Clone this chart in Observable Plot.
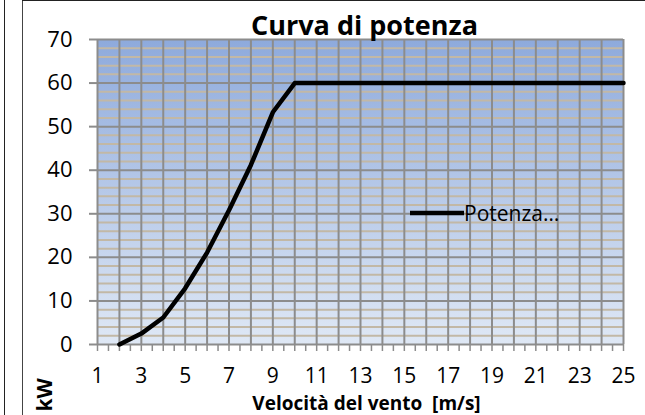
<!DOCTYPE html>
<html>
<head>
<meta charset="utf-8">
<script src="https://cdn.jsdelivr.net/npm/d3@7"></script>
<script src="https://cdn.jsdelivr.net/npm/@observablehq/plot@0.6"></script>
<style>
  html, body { margin: 0; padding: 0; background: #fff; }
  #wrap { position: relative; width: 645px; height: 415px; overflow: hidden; font-family: "Open Sans", sans-serif; }
  .edge { position: absolute; background: #222; }
  #legend { position: absolute; left: 410px; top: 199px; display: flex; align-items: center; font-size: 21px; color: #000; white-space: nowrap; }
</style>
</head>
<body>
<div id="wrap">
  <div class="edge" style="left:4px;top:0;width:1px;height:415px;"></div>
  <div class="edge" style="left:22px;top:0;width:1px;height:415px;background:#444;"></div>
  <div class="edge" style="left:22px;top:0;width:623px;height:1px;"></div>
  <div id="chart"></div>
  <div id="legend"><svg width="54" height="8"><line x1="0" y1="4" x2="54" y2="4" stroke="#000" stroke-width="4.5"/></svg><span>Potenza…</span></div>
</div>
<script>
// Data
const windSpeed = [2, 3, 4, 5, 6, 7, 8, 9, 10, 11, 12, 13, 14, 15, 16, 17, 18, 19, 20, 21, 22, 23, 24, 25];
const power     = [0, 2.5, 6.2, 12.9, 21.1, 30.8, 41.2, 53.3, 60, 60, 60, 60, 60, 60, 60, 60, 60, 60, 60, 60, 60, 60, 60, 60];
const xTickLabels = [1, 3, 5, 7, 9, 11, 13, 15, 17, 19, 21, 23, 25];
const xGrid = d3.range(1, 26, 1);
const xMinorTicks = d3.range(1, 25.01, 0.5);
const yTicks = [0, 10, 20, 30, 40, 50, 60, 70];
const yMinor = d3.range(0, 71, 2).filter(d => d % 10 !== 0);
const title = "Curva di potenza";
const xTitle = "Velocità del vento  [m/s]";
const yTitle = "kW";

const data = windSpeed.map((x, i) => ({x, y: power[i]}));

const chart = Plot.plot({
  width: 645,
  height: 415,
  marginLeft: 97,
  marginRight: 22,
  marginTop: 39,
  marginBottom: 71,
  style: {fontFamily: "Open Sans, sans-serif", background: "transparent", overflow: "visible"},
  x: {domain: [1, 25]},
  y: {domain: [0, 70]},
  marks: [
    Plot.frame({fill: "url(#bgGrad)", stroke: null}),
    Plot.gridY(yMinor, {stroke: "#c2b8a6", strokeOpacity: 1, strokeWidth: 2}),
    Plot.gridX(xGrid, {stroke: "#8c8c8c", strokeOpacity: 1, strokeWidth: 2}),
    Plot.gridY(yTicks, {stroke: "#8c8c8c", strokeOpacity: 1, strokeWidth: 2}),
    Plot.axisY(yTicks, {tickSize: 8, tickPadding: 17, fontSize: 22, stroke: "#8c8c8c", strokeWidth: 2, fill: "#000", label: null}),
    Plot.axisX(xMinorTicks, {tickSize: 7, tickFormat: () => "", stroke: "#8c8c8c", strokeWidth: 1.5, label: null}),
    Plot.axisX(xTickLabels, {tickSize: 0, tickPadding: 24, fontSize: 21, fill: "#000", label: null}),
    Plot.line(data, {x: "x", y: "y", stroke: "#000", strokeWidth: 4.5, strokeLinejoin: "round"}),
    Plot.text([title], {frameAnchor: "top", dx: 4, dy: -13, fontSize: 27, fontWeight: "bold", fill: "#000", lineAnchor: "middle"}),
    Plot.text([xTitle], {frameAnchor: "bottom", dx: 6, dy: 59.2, fontSize: 19, fontWeight: "bold", fill: "#000", lineAnchor: "middle"}),
    Plot.text([yTitle], {frameAnchor: "bottom-left", dx: -52, dy: 67, rotate: -90, textAnchor: "start", fontSize: 21, fontWeight: "bold", fill: "#000", lineAnchor: "middle"})
  ]
});

const svg = d3.select(chart);
const defs = svg.insert("defs", ":first-child");
const g = defs.append("linearGradient").attr("id", "bgGrad").attr("x1", 0).attr("y1", 0).attr("x2", 0).attr("y2", 1);
g.append("stop").attr("offset", "0%").attr("stop-color", "#8eaadc");
g.append("stop").attr("offset", "100%").attr("stop-color", "#dfe8f5");

document.getElementById("chart").appendChild(chart);
</script>
</body>
</html>
